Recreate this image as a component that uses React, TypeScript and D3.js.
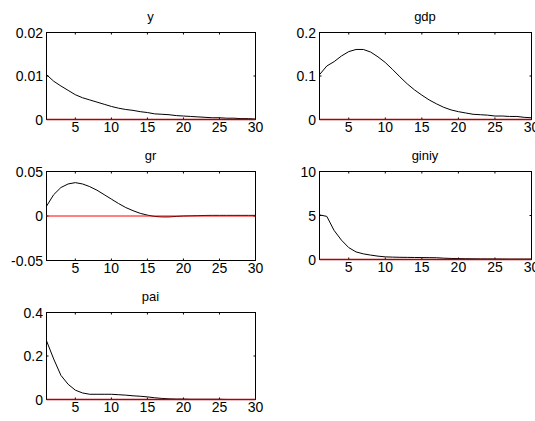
import React from "react";
import * as d3 from "d3";

const periods = d3.range(1, 31);

const ySeries = [0.0103, 0.0088, 0.0077, 0.0067, 0.0057, 0.005, 0.0045, 0.004, 0.0035, 0.003, 0.0026, 0.0023, 0.0021, 0.0018, 0.0016, 0.0013, 0.0012, 0.0011, 0.0009, 0.0008, 0.0007, 0.0006, 0.0005, 0.0004, 0.0004, 0.0003, 0.0003, 0.0002, 0.0002, 0.0001];
const gdpSeries = [0.103, 0.123, 0.133, 0.146, 0.156, 0.161, 0.161, 0.155, 0.144, 0.131, 0.115, 0.098, 0.082, 0.068, 0.056, 0.045, 0.036, 0.028, 0.022, 0.018, 0.015, 0.012, 0.011, 0.01, 0.008, 0.008, 0.007, 0.007, 0.005, 0.004];
const grSeries = [0.011, 0.024, 0.032, 0.036, 0.0375, 0.036, 0.033, 0.029, 0.024, 0.019, 0.014, 0.0095, 0.006, 0.003, 0.001, -0.0005, -0.001, -0.001, -0.0005, 0, 0.0002, 0.0004, 0.0006, 0.0007, 0.0007, 0.0007, 0.0007, 0.0007, 0.0007, 0.0007];
const giniySeries = [5.07, 4.9, 3.3, 2.2, 1.35, 0.86, 0.64, 0.5, 0.38, 0.3, 0.27, 0.25, 0.24, 0.23, 0.22, 0.21, 0.2, 0.15, 0.12, 0.1, 0.09, 0.08, 0.07, 0.07, 0.06, 0.06, 0.05, 0.05, 0.05, 0.05];
const paiSeries = [0.27, 0.186, 0.111, 0.07, 0.043, 0.03, 0.024, 0.024, 0.024, 0.024, 0.022, 0.02, 0.017, 0.015, 0.012, 0.008, 0.005, 0.003, 0.002, 0.002, 0.001, 0.001, 0.001, 0.001, 0.001, 0, 0, 0, 0, 0];

const xTicks = [5, 10, 15, 20, 25, 30];
const yTicksY = [0, 0.01, 0.02];
const yTicksGdp = [0, 0.1, 0.2];
const yTicksGr = [-0.05, 0, 0.05];
const yTicksGiniy = [0, 5, 10];
const yTicksPai = [0, 0.2, 0.4];

const titles = ["y", "gdp", "gr", "giniy", "pai"];

const panels = [
  { title: titles[0], data: ySeries, ticks: yTicksY, x0: 46, x1: 255, y0: 32, y1: 119 },
  { title: titles[1], data: gdpSeries, ticks: yTicksGdp, x0: 319, x1: 531, y0: 32, y1: 119 },
  { title: titles[2], data: grSeries, ticks: yTicksGr, x0: 46, x1: 255, y0: 171, y1: 260 },
  { title: titles[3], data: giniySeries, ticks: yTicksGiniy, x0: 319, x1: 531, y0: 171, y1: 259 },
  { title: titles[4], data: paiSeries, ticks: yTicksPai, x0: 46, x1: 255, y0: 312, y1: 399 },
];

const font = "'Liberation Sans', Arial, Helvetica, sans-serif";
const TL = 2;

function Panel({ p }: { p: any }) {
  const x = d3.scaleLinear().domain([1, 30]).range([p.x0 + 0.5, p.x1 + 0.5]);
  const y = d3
    .scaleLinear()
    .domain([p.ticks[0], p.ticks[p.ticks.length - 1]])
    .range([p.y1 + 0.5, p.y0 + 0.5]);
  const line = d3
    .line<number>()
    .x((_, i) => x(periods[i]))
    .y((d) => y(d));
  const zeroOnEdge = p.ticks[0] === 0;
  const L = x(1), R = x(30), T = y(p.ticks[p.ticks.length - 1]), B = y(p.ticks[0]);
  return (
    <g>
      <text
        x={(p.x0 + p.x1) / 2}
        y={p.y0 - 11}
        textAnchor="middle"
        fontSize={13}
        fontFamily={font}
      >
        {p.title}
      </text>
      <path d={line(p.data) || ""} fill="none" stroke="black" strokeWidth={1} />
      <rect x={L} y={T} width={R - L} height={B - T} fill="none" stroke="black" strokeWidth={1} />
      {xTicks.map((t) => (
        <g key={"x" + t}>
          <line x1={x(t)} x2={x(t)} y1={B} y2={B - TL} stroke="black" />
          <line x1={x(t)} x2={x(t)} y1={T} y2={T + TL} stroke="black" />
          <text x={x(t)} y={p.y1 + 13} textAnchor="middle" fontSize={14} fontFamily={font}>
            {t}
          </text>
        </g>
      ))}
      {p.ticks.map((t: number) => (
        <g key={"y" + t}>
          <line x1={L} x2={L + TL} y1={y(t)} y2={y(t)} stroke="black" />
          <line x1={R} x2={R - TL} y1={y(t)} y2={y(t)} stroke="black" />
          <text x={p.x0 - 3} y={y(t)} dy="0.36em" textAnchor="end" fontSize={14} fontFamily={font}>
            {String(t)}
          </text>
        </g>
      ))}
      <line
        x1={x(1)}
        x2={x(30)}
        y1={y(0)}
        y2={y(0)}
        stroke={zeroOnEdge ? "#b00000" : "#ff0000"}
        strokeWidth={zeroOnEdge ? 1.5 : 1}
      />
    </g>
  );
}

export default function App() {
  return (
    <div style={{ position: "absolute", left: 0, top: 0 }}>
      <svg width={535} height={421} style={{ display: "block", background: "white" }}>
        {panels.map((p) => (
          <Panel key={p.title} p={p} />
        ))}
      </svg>
    </div>
  );
}
